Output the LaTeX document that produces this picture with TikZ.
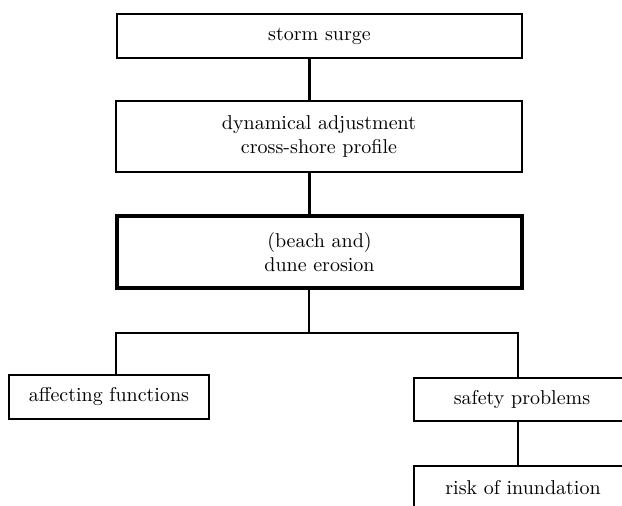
\documentclass[tikz,border=0pt]{standalone}
\usepackage{tikz}
\usetikzlibrary{positioning}

\begin{document}
\begin{tikzpicture}[x=0.5pt, y=-0.5pt,
		stepbox/.style={draw, line width=1pt, inner sep=2pt, align=center,
			minimum height=22pt, font=\normalsize},
		mainbox/.style={stepbox, line width=1.8pt},
		link/.style={line width=1pt},
		trunklink/.style={line width=1.5pt}
	]
		\useasboundingbox (0,0) rectangle (622,506);
		\clip (0,0) rectangle (622,506);
		\node[stepbox, minimum width=202.5pt] (surge) at (319.5,36) {storm surge};
		\node[stepbox, minimum width=203pt, minimum height=35.5pt] (adjust) at (319,136.5) {dynamical adjustment\\cross-shore profile};
		\node[mainbox, minimum width=202.5pt, minimum height=36pt] (erosion) at (319.5,252) {(beach and)\\dune erosion};
		\node[stepbox, minimum width=100pt] (functions) at (109,397) {affecting functions};
		\node[stepbox, minimum width=108pt, minimum height=21.5pt] (safety) at (522,399.5) {safety problems};
		\node[stepbox, minimum width=109pt] (inundation) at (523,488) {risk of inundation};
		\coordinate (trunk) at (309,0);
		\coordinate (forkL) at (116,333);
		\coordinate (forkR) at (518,333);
		\draw[trunklink] (surge.south -| trunk) -- (adjust.north -| trunk);
		\draw[trunklink] (adjust.south -| trunk) -- (erosion.north -| trunk);
		\draw[link] (erosion.south -| trunk) -- (trunk |- forkL);
		\draw[link] (functions.north -| forkL) -- (forkL) -- (forkR) -- (safety.north -| forkR);
		\draw[link] (safety.south -| forkR) -- (inundation.north -| forkR);
	\end{tikzpicture}
\end{document}
